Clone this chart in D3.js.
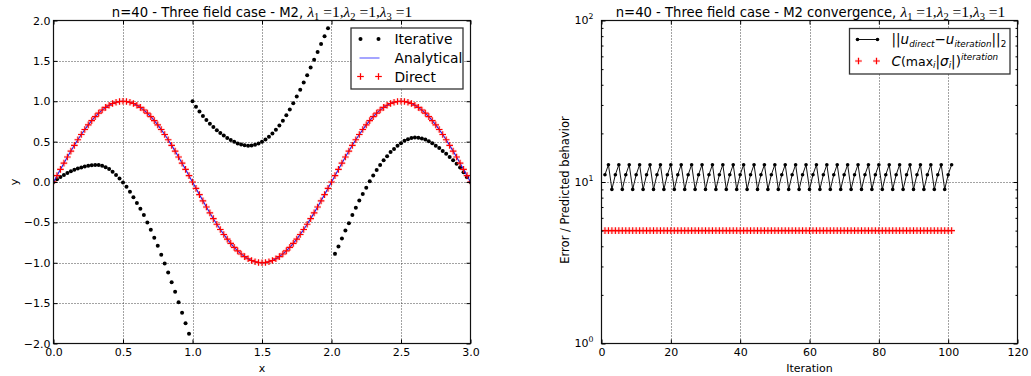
<!DOCTYPE html>
<html>
<head>
<meta charset="utf-8">
<script src="https://cdn.jsdelivr.net/npm/d3@7"></script>
<style>
  body { margin: 0; background: #fff; }
  svg { display: block; }
  text { font-family: "DejaVu Sans", sans-serif; fill: #000; }
</style>
</head>
<body>
<svg id="fig" width="1031" height="376"></svg>
<script>
// ---------- data: left panel (solution profiles) ----------
const gridStep = 0.025;
const xTicksL = [0.0, 0.5, 1.0, 1.5, 2.0, 2.5, 3.0];
const yTicksL = [-2.0, -1.5, -1.0, -0.5, 0.0, 0.5, 1.0, 1.5, 2.0];

// analytical profile sampled on the full grid x = 0, 0.025, ..., 3.0
const analytical = [
  0.0000, 0.0785, 0.1564, 0.2334, 0.3090, 0.3827, 0.4540, 0.5225, 0.5878, 0.6494,
  0.7071, 0.7604, 0.8090, 0.8526, 0.8910, 0.9239, 0.9511, 0.9724, 0.9877, 0.9969,
  1.0000, 0.9969, 0.9877, 0.9724, 0.9511, 0.9239, 0.8910, 0.8526, 0.8090, 0.7604,
  0.7071, 0.6494, 0.5878, 0.5225, 0.4540, 0.3827, 0.3090, 0.2334, 0.1564, 0.0785,
  0.0000, -0.0785, -0.1564, -0.2334, -0.3090, -0.3827, -0.4540, -0.5225, -0.5878, -0.6494,
  -0.7071, -0.7604, -0.8090, -0.8526, -0.8910, -0.9239, -0.9511, -0.9724, -0.9877, -0.9969,
  -1.0000, -0.9969, -0.9877, -0.9724, -0.9511, -0.9239, -0.8910, -0.8526, -0.8090, -0.7604,
  -0.7071, -0.6494, -0.5878, -0.5225, -0.4540, -0.3827, -0.3090, -0.2334, -0.1564, -0.0785,
  0.0000, 0.0785, 0.1564, 0.2334, 0.3090, 0.3827, 0.4540, 0.5225, 0.5878, 0.6494,
  0.7071, 0.7604, 0.8090, 0.8526, 0.8910, 0.9239, 0.9511, 0.9724, 0.9877, 0.9969,
  1.0000, 0.9969, 0.9877, 0.9724, 0.9511, 0.9239, 0.8910, 0.8526, 0.8090, 0.7604,
  0.7071, 0.6494, 0.5878, 0.5225, 0.4540, 0.3827, 0.3090, 0.2334, 0.1564, 0.0785,
  0.0000
];

// direct solve on the same grid (coincides with the analytical profile)
const direct = [
  0.0000, 0.0785, 0.1564, 0.2334, 0.3090, 0.3827, 0.4540, 0.5225, 0.5878, 0.6494,
  0.7071, 0.7604, 0.8090, 0.8526, 0.8910, 0.9239, 0.9511, 0.9724, 0.9877, 0.9969,
  1.0000, 0.9969, 0.9877, 0.9724, 0.9511, 0.9239, 0.8910, 0.8526, 0.8090, 0.7604,
  0.7071, 0.6494, 0.5878, 0.5225, 0.4540, 0.3827, 0.3090, 0.2334, 0.1564, 0.0785,
  0.0000, -0.0785, -0.1564, -0.2334, -0.3090, -0.3827, -0.4540, -0.5225, -0.5878, -0.6494,
  -0.7071, -0.7604, -0.8090, -0.8526, -0.8910, -0.9239, -0.9511, -0.9724, -0.9877, -0.9969,
  -1.0000, -0.9969, -0.9877, -0.9724, -0.9511, -0.9239, -0.8910, -0.8526, -0.8090, -0.7604,
  -0.7071, -0.6494, -0.5878, -0.5225, -0.4540, -0.3827, -0.3090, -0.2334, -0.1564, -0.0785,
  0.0000, 0.0785, 0.1564, 0.2334, 0.3090, 0.3827, 0.4540, 0.5225, 0.5878, 0.6494,
  0.7071, 0.7604, 0.8090, 0.8526, 0.8910, 0.9239, 0.9511, 0.9724, 0.9877, 0.9969,
  1.0000, 0.9969, 0.9877, 0.9724, 0.9511, 0.9239, 0.8910, 0.8526, 0.8090, 0.7604,
  0.7071, 0.6494, 0.5878, 0.5225, 0.4540, 0.3827, 0.3090, 0.2334, 0.1564, 0.0785,
  0.0000
];

// iterative solution, one block of 40 nodes per field
const iterFieldStart = [0.0, 1.0, 2.025];
const iterField1 = [
  0.000, 0.035, 0.062, 0.088, 0.112, 0.134, 0.152, 0.168, 0.180, 0.191,
  0.200, 0.206, 0.210, 0.209, 0.200, 0.183, 0.160, 0.128, 0.088, 0.043,
  -0.005, -0.060, -0.120, -0.190, -0.260, -0.330, -0.410, -0.500, -0.590, -0.690,
  -0.790, -0.900, -1.010, -1.120, -1.240, -1.360, -1.490, -1.620, -1.750, -1.880
];
const iterField2 = [
  1.000, 0.932, 0.872, 0.818, 0.768, 0.722, 0.680, 0.642, 0.607, 0.575,
  0.546, 0.521, 0.498, 0.478, 0.464, 0.455, 0.450, 0.452, 0.461, 0.477,
  0.499, 0.527, 0.561, 0.601, 0.647, 0.700, 0.760, 0.826, 0.898, 0.975,
  1.058, 1.143, 1.232, 1.323, 1.417, 1.513, 1.610, 1.708, 1.806, 1.903
];
const iterField3 = [
  -0.890, -0.800, -0.700, -0.600, -0.510, -0.410, -0.320, -0.230, -0.150, -0.070,
  0.010, 0.080, 0.150, 0.210, 0.270, 0.320, 0.370, 0.410, 0.450, 0.480,
  0.510, 0.530, 0.545, 0.550, 0.548, 0.540, 0.525, 0.505, 0.480, 0.450,
  0.420, 0.385, 0.350, 0.310, 0.270, 0.225, 0.180, 0.120, 0.060, 0.000
];

// ---------- data: right panel (convergence history, iterations 1..101) ----------
const xTicksR = [0, 20, 40, 60, 80, 100, 120];
const yTicksR = [1, 10, 100];
const yTickExpR = ["0", "1", "2"];
const firstIteration = 1;
const errNorm = [
  11.1, 12.8, 9.0,  11.1, 12.8, 9.0,  11.1, 12.8, 9.0,  11.1, 12.8, 9.0,
  11.1, 12.8, 9.0,  11.1, 12.8, 9.0,  11.1, 12.8, 9.0,  11.1, 12.8, 9.0,
  11.1, 12.8, 9.0,  11.1, 12.8, 9.0,  11.1, 12.8, 9.0,  11.1, 12.8, 9.0,
  11.1, 12.8, 9.0,  11.1, 12.8, 9.0,  11.1, 12.8, 9.0,  11.1, 12.8, 9.0,
  11.1, 12.8, 9.0,  11.1, 12.8, 9.0,  11.1, 12.8, 9.0,  11.1, 12.8, 9.0,
  11.1, 12.8, 9.0,  11.1, 12.8, 9.0,  11.1, 12.8, 9.0,  11.1, 12.8, 9.0,
  11.1, 12.8, 9.0,  11.1, 12.8, 9.0,  11.1, 12.8, 9.0,  11.1, 12.8, 9.0,
  11.1, 12.8, 9.0,  11.1, 12.8, 9.0,  11.1, 12.8, 9.0,  11.1, 12.8, 9.0,
  11.1, 12.8, 9.0,
  11.1, 12.8
];
const predicted = [
  5.0, 5.0, 5.0, 5.0, 5.0, 5.0, 5.0, 5.0, 5.0, 5.0,
  5.0, 5.0, 5.0, 5.0, 5.0, 5.0, 5.0, 5.0, 5.0, 5.0,
  5.0, 5.0, 5.0, 5.0, 5.0, 5.0, 5.0, 5.0, 5.0, 5.0,
  5.0, 5.0, 5.0, 5.0, 5.0, 5.0, 5.0, 5.0, 5.0, 5.0,
  5.0, 5.0, 5.0, 5.0, 5.0, 5.0, 5.0, 5.0, 5.0, 5.0,
  5.0, 5.0, 5.0, 5.0, 5.0, 5.0, 5.0, 5.0, 5.0, 5.0,
  5.0, 5.0, 5.0, 5.0, 5.0, 5.0, 5.0, 5.0, 5.0, 5.0,
  5.0, 5.0, 5.0, 5.0, 5.0, 5.0, 5.0, 5.0, 5.0, 5.0,
  5.0, 5.0, 5.0, 5.0, 5.0, 5.0, 5.0, 5.0, 5.0, 5.0,
  5.0, 5.0, 5.0, 5.0, 5.0, 5.0, 5.0, 5.0, 5.0, 5.0,
  5.0
];

// ---------- layout ----------
const svg = d3.select("#fig");
const SERIF = "'Liberation Serif', 'DejaVu Serif', serif";
const TICK_FS = 11;

const pL = { x0: 53.5, x1: 470.5, y0: 20.5, y1: 343.5 };
const pR = { x0: 601.5, x1: 1017.5, y0: 20.5, y1: 343.5 };

const xL = d3.scaleLinear().domain([0, 3]).range([pL.x0, pL.x1]);
const yL = d3.scaleLinear().domain([-2, 2]).range([pL.y1, pL.y0]);
const xR = d3.scaleLinear().domain([0, 120]).range([pR.x0, pR.x1]);
const yR = d3.scaleLog().domain([1, 100]).range([pR.y1, pR.y0]);

svg.append("defs").selectAll("clipPath").data([["clipL", pL], ["clipR", pR]])
  .join("clipPath").attr("id", d => d[0])
  .append("rect")
  .attr("x", d => d[1].x0).attr("y", d => d[1].y0)
  .attr("width", d => d[1].x1 - d[1].x0).attr("height", d => d[1].y1 - d[1].y0);

// dotted grid at major ticks
function grid(p, xs, ys, xScale, yScale) {
  const g = svg.append("g").attr("stroke", "#000").attr("stroke-width", 0.9)
    .attr("stroke-dasharray", "1,2").attr("opacity", 0.8);
  g.selectAll("line.v").data(xs).join("line").attr("class", "v")
    .attr("x1", d => Math.round(xScale(d)) + 0.5).attr("x2", d => Math.round(xScale(d)) + 0.5)
    .attr("y1", p.y0).attr("y2", p.y1);
  g.selectAll("line.h").data(ys).join("line").attr("class", "h")
    .attr("y1", d => Math.round(yScale(d)) + 0.5).attr("y2", d => Math.round(yScale(d)) + 0.5)
    .attr("x1", p.x0).attr("x2", p.x1);
}

// inward ticks on all four sides, labels on bottom/left
function styleAxis(sel) {
  sel.select(".domain").remove();
  sel.attr("font-family", "DejaVu Sans, sans-serif").attr("font-size", TICK_FS);
  sel.selectAll(".tick line").attr("stroke", "#000");
}

function axesBox(p, xScale, yScale, xTicks, yTicks, xFmt, yFmt) {
  svg.append("g").attr("transform", `translate(0,${p.y1})`)
    .call(d3.axisBottom(xScale).tickValues(xTicks).tickSize(-4).tickPadding(5).tickFormat(xFmt))
    .call(styleAxis);
  svg.append("g").attr("transform", `translate(0,${p.y0})`)
    .call(d3.axisTop(xScale).tickValues(xTicks).tickSize(-4).tickFormat(""))
    .call(styleAxis);
  svg.append("g").attr("transform", `translate(${p.x0},0)`)
    .call(d3.axisLeft(yScale).tickValues(yTicks).tickSize(-4).tickPadding(3).tickFormat(yFmt))
    .call(styleAxis);
  svg.append("g").attr("transform", `translate(${p.x1},0)`)
    .call(d3.axisRight(yScale).tickValues(yTicks).tickSize(-4).tickFormat(""))
    .call(styleAxis);
}

function frame(p) {
  svg.append("rect").attr("x", p.x0).attr("y", p.y0)
    .attr("width", p.x1 - p.x0).attr("height", p.y1 - p.y0)
    .attr("fill", "none").attr("stroke", "#111").attr("stroke-width", 1.2);
}

// title with a mathtext tail: λ_1 =1, λ_2 =1, λ_3 =1
function title(cx, prefix) {
  const t = svg.append("text").attr("x", cx).attr("y", 16.5)
    .attr("text-anchor", "middle").attr("font-size", 13.2);
  t.append("tspan").text(prefix);
  ["1", "2", "3"].forEach((s, i) => {
    t.append("tspan").attr("font-family", SERIF).attr("font-style", "italic").attr("font-size", 15.5).text("λ");
    t.append("tspan").attr("font-family", SERIF).attr("font-size", 10.5).attr("dy", 3).text(s);
    t.append("tspan").attr("font-family", SERIF).attr("font-size", 15.5).attr("dy", -3)
      .text(i < 2 ? " =1," : " =1");
  });
}

function plusPath(cx, cy, r) {
  return `M${cx - r},${cy}H${cx + r}M${cx},${cy - r}V${cy + r}`;
}

// red plus markers with the light pink fringe they leave around the strokes
function drawPluses(g, pts, r) {
  g.append("g").selectAll("path").data(pts).join("path")
    .attr("d", d => plusPath(d[0], d[1], r))
    .attr("stroke", "#ff0000").attr("stroke-opacity", 0.12)
    .attr("stroke-width", 3.2).attr("fill", "none");
  g.append("g").selectAll("path").data(pts).join("path")
    .attr("d", d => plusPath(d[0], d[1], r))
    .attr("stroke", "#ff0000").attr("stroke-width", 1.1).attr("fill", "none");
}

// ================= left panel =================
grid(pL, xTicksL.slice(1, -1), yTicksL.slice(1, -1), xL, yL);

const gL = svg.append("g").attr("clip-path", "url(#clipL)");

// iterative (black dots)
const iterPts = [];
[iterField1, iterField2, iterField3].forEach((vals, f) => {
  vals.forEach((v, k) => iterPts.push([iterFieldStart[f] + k * gridStep, v]));
});
gL.append("g").selectAll("circle").data(iterPts).join("circle")
  .attr("cx", d => xL(d[0])).attr("cy", d => yL(d[1])).attr("r", 2).attr("fill", "#000");

// analytical (blue line)
gL.append("path").datum(analytical)
  .attr("d", d3.line().x((d, i) => xL(i * gridStep)).y(d => yL(d)))
  .attr("fill", "none").attr("stroke", "#1a1aff").attr("stroke-width", 1.1);

// direct (red plus markers)
drawPluses(gL, direct.map((d, i) => [xL(i * gridStep), yL(d)]), 3.3);

frame(pL);
axesBox(pL, xL, yL, xTicksL, yTicksL, d3.format(".1f"), d3.format(".1f"));

title((pL.x0 + pL.x1) / 2, "n=40 - Three field case - M2, ");

svg.append("text").attr("x", (pL.x0 + pL.x1) / 2).attr("y", 372)
  .attr("text-anchor", "middle").attr("font-size", TICK_FS).text("x");
svg.append("text").attr("transform", `translate(18,${(pL.y0 + pL.y1) / 2}) rotate(-90)`)
  .attr("text-anchor", "middle").attr("font-size", TICK_FS).text("y");

// legend
{
  const lg = svg.append("g");
  lg.append("rect").attr("x", 351).attr("y", 28).attr("width", 112).attr("height", 61)
    .attr("fill", "#fff").attr("stroke", "#333").attr("stroke-width", 1.3);
  const rows = [39, 58, 76.5];
  const sx = [360.5, 378.5];
  lg.selectAll("circle").data(sx).join("circle")
    .attr("cx", d => d).attr("cy", rows[0]).attr("r", 2).attr("fill", "#000");
  lg.append("line").attr("x1", 359.5).attr("x2", 379.5).attr("y1", rows[1]).attr("y2", rows[1])
    .attr("stroke", "#0000ff").attr("stroke-opacity", 0.55).attr("stroke-width", 1.3);
  drawPluses(lg, sx.map(x => [x, rows[2]]), 3.3);
  ["Iterative", "Analytical", "Direct"].forEach((s, i) => {
    lg.append("text").attr("x", 394.5).attr("y", rows[i] + 5).attr("font-size", 13.8).text(s);
  });
}

// ================= right panel =================
grid(pR, xTicksR.slice(1, -1), [10], xR, yR);

const gR = svg.append("g").attr("clip-path", "url(#clipR)");
const errPts = errNorm.map((v, i) => [firstIteration + i, v]);
const predPts = predicted.map((v, i) => [firstIteration + i, v]);

gR.append("path").datum(errPts)
  .attr("d", d3.line().x(d => xR(d[0])).y(d => yR(d[1])))
  .attr("fill", "none").attr("stroke", "#111").attr("stroke-width", 1);
gR.append("g").selectAll("circle").data(errPts).join("circle")
  .attr("cx", d => xR(d[0])).attr("cy", d => yR(d[1])).attr("r", 1.8).attr("fill", "#000");
drawPluses(gR, predPts.map(d => [xR(d[0]), yR(d[1])]), 3.3);

frame(pR);
axesBox(pR, xR, yR, xTicksR, yTicksR, d3.format("d"), () => "");

// minor log ticks
const minorR = [2, 3, 4, 5, 6, 7, 8, 9, 20, 30, 40, 50, 60, 70, 80, 90];
svg.append("g").attr("transform", `translate(${pR.x0},0)`)
  .call(d3.axisLeft(yR).tickValues(minorR).tickSize(-2).tickFormat(""))
  .call(styleAxis);
svg.append("g").attr("transform", `translate(${pR.x1},0)`)
  .call(d3.axisRight(yR).tickValues(minorR).tickSize(-2).tickFormat(""))
  .call(styleAxis);

// 10^k labels
yTicksR.forEach((v, i) => {
  const t = svg.append("text").attr("x", 593.5).attr("y", yR(v) + 3.5)
    .attr("text-anchor", "end").attr("font-size", TICK_FS);
  t.append("tspan").text("10");
  t.append("tspan").attr("font-size", 7.8).attr("dy", -5).text(yTickExpR[i]);
});

title((pR.x0 + pR.x1) / 2 + 1, "n=40 - Three field case - M2 convergence, ");

svg.append("text").attr("x", (pR.x0 + pR.x1) / 2).attr("y", 372)
  .attr("text-anchor", "middle").attr("font-size", TICK_FS).text("Iteration");
svg.append("text").attr("transform", `translate(569,190) rotate(-90)`)
  .attr("text-anchor", "middle").attr("font-size", 11.5).text("Error / Predicted behavior");

// legend
{
  const lg = svg.append("g");
  lg.append("rect").attr("x", 849.5).attr("y", 28.5).attr("width", 160.5).attr("height", 45.5)
    .attr("fill", "#fff").attr("stroke", "#333").attr("stroke-width", 1.3);
  const r1 = 39.5, r2 = 61;
  lg.append("line").attr("x1", 857.5).attr("x2", 877.5).attr("y1", r1).attr("y2", r1)
    .attr("stroke", "#111").attr("stroke-width", 1);
  lg.selectAll("circle").data([857.5, 877.5]).join("circle")
    .attr("cx", d => d).attr("cy", r1).attr("r", 1.8).attr("fill", "#000");
  drawPluses(lg, [[858.5, r2], [876.5, r2]], 3.3);

  const t1 = lg.append("text").attr("x", 891.5).attr("y", r1 + 4.5)
    .attr("font-family", SERIF).attr("font-size", 13.5);
  t1.append("tspan").text("||");
  t1.append("tspan").attr("font-style", "italic").text("u");
  t1.append("tspan").attr("font-style", "italic").attr("font-size", 8.8).attr("dy", 2.5).text("direct");
  t1.append("tspan").attr("dy", -2.5).text("−");
  t1.append("tspan").attr("font-style", "italic").text("u");
  t1.append("tspan").attr("font-style", "italic").attr("font-size", 8.8).attr("dy", 2.5).text("iteration");
  t1.append("tspan").attr("dy", -2.5).text("||");
  t1.append("tspan").attr("font-size", 8.8).attr("dy", 2.5).text("2");

  const t2 = lg.append("text").attr("x", 891.5).attr("y", r2 + 4.5)
    .attr("font-family", SERIF).attr("font-size", 13.5);
  t2.append("tspan").attr("font-style", "italic").text("C");
  t2.append("tspan").attr("font-family", "DejaVu Sans, sans-serif").attr("font-size", 12.5).text("(max");
  t2.append("tspan").attr("font-style", "italic").attr("font-size", 8.8).attr("dy", 2.5).text("i");
  t2.append("tspan").attr("dy", -2.5).text("|");
  t2.append("tspan").attr("font-style", "italic").text("σ");
  t2.append("tspan").attr("font-style", "italic").attr("font-size", 8.8).attr("dy", 2.5).text("i");
  t2.append("tspan").attr("dy", -2.5).text("|)");
  t2.append("tspan").attr("font-style", "italic").attr("font-size", 8.8).attr("dy", -6).text("iteration");
}
</script>
</body>
</html>
